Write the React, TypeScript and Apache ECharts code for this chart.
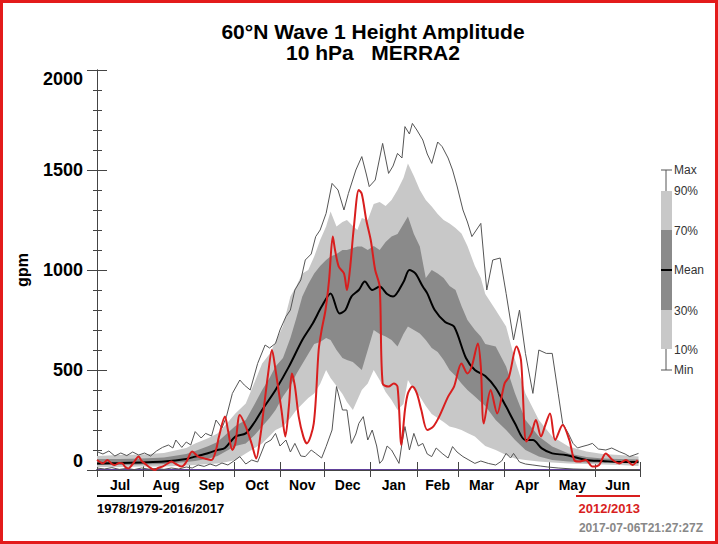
import React, { useEffect, useRef } from "react";
import * as echarts from "echarts";

// months of the season, July to June (day 0 = Jul 1)
const monthNames = ["Jul", "Aug", "Sep", "Oct", "Nov", "Dec", "Jan", "Feb", "Mar", "Apr", "May", "Jun"];
const monthStarts = [0, 31, 62, 92, 123, 153, 184, 215, 243, 274, 304, 335, 365];
const monthMids = [15.5, 46.5, 77, 107.5, 138, 168.5, 199.5, 229, 258.5, 289, 319.5, 350];

// climatology percentiles 1978/1979-2016/2017
const bandDays = [0, 15, 30, 45, 60, 66, 75, 81, 87, 93, 100, 106, 111, 116, 120, 125, 130, 134, 138, 142, 146, 150, 154, 157, 161, 165, 168, 172, 175, 178, 182, 186, 190, 194, 198, 202, 206, 209, 213, 217, 221, 225, 229, 233, 237, 241, 245, 249, 254, 258, 261, 268, 275, 281, 288, 297, 306, 317, 329, 340, 351, 364];
const p90 = [70, 75, 78, 85, 110, 133, 160, 183, 230, 283, 333, 440, 533, 580, 640, 720, 867, 920, 983, 1000, 1067, 1150, 1217, 1292, 1217, 1240, 1250, 1220, 1200, 1260, 1250, 1330, 1340, 1320, 1350, 1400, 1460, 1533, 1470, 1400, 1350, 1317, 1280, 1250, 1233, 1210, 1183, 1120, 1020, 960, 880, 800, 717, 550, 383, 250, 167, 117, 92, 80, 75, 67];
const p70 = [55, 55, 58, 62, 80, 95, 120, 140, 180, 220, 250, 330, 400, 460, 517, 560, 660, 760, 867, 930, 983, 1020, 1050, 1067, 1080, 1100, 1100, 1110, 1117, 1117, 1100, 1120, 1100, 1140, 1167, 1180, 1230, 1267, 1180, 1117, 960, 1000, 983, 960, 920, 900, 820, 750, 700, 667, 630, 617, 517, 383, 250, 167, 117, 83, 65, 58, 55, 52];
const p30 = [25, 25, 27, 30, 40, 45, 58, 70, 95, 120, 133, 175, 217, 260, 300, 367, 420, 480, 530, 580, 630, 640, 660, 650, 600, 560, 550, 540, 520, 500, 600, 700, 680, 667, 650, 617, 680, 717, 700, 683, 650, 610, 590, 550, 500, 470, 433, 400, 367, 340, 320, 250, 200, 150, 100, 67, 50, 42, 38, 36, 35, 33];
const p10 = [15, 15, 17, 17, 22, 25, 30, 33, 40, 50, 83, 110, 133, 170, 200, 217, 260, 300, 330, 360, 383, 430, 500, 460, 420, 380, 340, 300, 350, 400, 433, 500, 450, 390, 350, 300, 330, 450, 400, 367, 320, 280, 260, 240, 217, 210, 200, 185, 167, 140, 120, 100, 75, 58, 50, 42, 38, 33, 30, 27, 25, 20];

const meanDays = [0, 15, 30, 45, 60, 66, 75, 81, 86, 93, 100, 106, 111, 120, 129, 138, 145, 151, 157, 163, 167, 171, 176, 180, 185, 190, 195, 199, 206, 210, 214, 219, 222, 227, 234, 240, 248, 254, 261, 268, 275, 281, 288, 293, 299, 306, 315, 329, 340, 351, 364];
const meanValues = [33, 35, 38, 42, 55, 67, 85, 100, 110, 167, 183, 240, 300, 400, 517, 650, 733, 817, 883, 783, 800, 867, 900, 942, 900, 917, 880, 867, 940, 1000, 983, 917, 883, 800, 740, 717, 560, 500, 470, 410, 317, 233, 150, 150, 108, 83, 75, 50, 45, 40, 40];

const maxDays = [0, 4, 8, 12, 16, 20, 24, 28, 32, 36, 40, 44, 48, 51, 53, 57, 60, 63, 66, 70, 73, 77, 80, 84, 87, 91, 96, 99, 103, 108, 113, 116, 120, 123, 127, 130, 133, 137, 140, 144, 147, 150, 154, 158, 162, 166, 169, 174, 178, 181, 183, 187, 192, 196, 199, 202, 205, 207, 210, 212, 215, 219, 222, 225, 229, 232, 236, 239, 242, 246, 249, 252, 255, 258, 262, 266, 271, 275, 280, 284, 288, 293, 297, 302, 306, 310, 313, 317, 320, 323, 326, 330, 333, 337, 342, 346, 351, 355, 358, 361, 364];
const maxValues = [92, 80, 95, 70, 85, 72, 90, 75, 85, 70, 95, 113, 125, 110, 150, 113, 140, 125, 192, 160, 183, 170, 250, 210, 267, 383, 450, 425, 400, 533, 625, 610, 633, 700, 767, 800, 900, 950, 1050, 1080, 1167, 1200, 1283, 1433, 1400, 1300, 1383, 1500, 1567, 1480, 1417, 1450, 1633, 1483, 1520, 1583, 1560, 1717, 1680, 1733, 1700, 1650, 1580, 1533, 1640, 1617, 1560, 1500, 1420, 1300, 1240, 1167, 1200, 1233, 900, 1050, 1060, 883, 650, 800, 583, 383, 600, 583, 583, 383, 233, 180, 133, 110, 117, 125, 133, 105, 100, 110, 92, 80, 67, 75, 83];

const minDays = [0, 5, 10, 15, 20, 25, 30, 35, 40, 45, 50, 55, 60, 64, 68, 72, 76, 80, 84, 88, 92, 96, 100, 104, 108, 113, 117, 120, 123, 127, 130, 133, 137, 140, 144, 147, 151, 154, 158, 161, 165, 168, 171, 174, 176, 179, 182, 185, 188, 190, 192, 195, 198, 201, 203, 205, 207, 210, 213, 216, 219, 222, 225, 228, 232, 236, 239, 242, 246, 250, 254, 258, 263, 268, 272, 275, 278, 280, 284, 288, 293, 298, 303, 310, 320, 330, 340, 350, 364];
const minValues = [10, 5, 12, 3, 8, 2, 10, 4, 8, 3, 10, 5, 15, 10, 25, 18, 30, 20, 35, 25, 45, 67, 30, 50, 40, 133, 150, 183, 120, 150, 90, 133, 70, 67, 100, 83, 60, 117, 200, 417, 300, 300, 133, 180, 233, 267, 150, 200, 120, 33, 50, 120, 100, 60, 33, 133, 217, 100, 183, 120, 133, 80, 67, 110, 83, 60, 117, 90, 67, 50, 33, 45, 33, 25, 45, 83, 60, 83, 40, 30, 25, 20, 15, 10, 5, 3, 2, 2, 2];

// season 2012/2013
const redDays = [0, 2, 4, 7, 10, 12, 15, 17, 19, 21, 24, 28, 30, 32, 35, 39, 41, 44, 47, 50, 53, 57, 60, 64, 68, 72, 77, 80, 82, 86, 88, 91, 93, 96, 100, 104, 107, 110, 112, 115, 117.6, 120, 122, 124, 126.6, 129, 131, 133, 135.6, 138.7, 141, 145.7, 149, 151, 153.6, 156, 158.5, 160, 162.5, 166, 168, 170, 172.7, 176, 178, 181, 184, 187, 190, 192, 196, 199.5, 202, 204.6, 207, 209, 212, 215, 218, 222, 226, 230, 236, 240, 245, 249, 252, 256, 258, 260, 264.6, 269, 274, 277, 282, 285, 288.6, 292, 295, 298.5, 301, 304.5, 308, 313, 317.5, 320.8, 324, 328.6, 333, 337.5, 342, 346.6, 351, 355.6, 360, 363.4];
const redValues = [50, 40, 33, 50, 30, 25, 35, 33, 15, 8, 30, 67, 45, 33, 15, 0, 10, 17, 30, 42, 30, 17, 40, 92, 67, 58, 50, 100, 167, 267, 200, 100, 133, 275, 217, 130, 58, 180, 300, 480, 600, 500, 400, 300, 167, 320, 483, 420, 267, 167, 133, 233, 600, 700, 800, 950, 1167, 1100, 1017, 983, 900, 1000, 1217, 1400, 1380, 1250, 1150, 1000, 917, 433, 417, 433, 417, 125, 300, 383, 417, 383, 300, 200, 217, 267, 367, 417, 533, 483, 520, 633, 517, 233, 400, 283, 433, 467, 617, 550, 142, 183, 250, 167, 217, 283, 150, 225, 150, 50, 42, 50, 17, 25, 83, 50, 33, 50, 25, 50];

const zip = (xs: number[], ys: number[]) => xs.map((x, i) => [x, ys[i]]);

const FONT = '"Liberation Sans", Arial, sans-serif';
const AXIS = "#444";

// shaded band between two percentile curves, drawn as one polygon through the axes' scales
const bandSeries = (name: string, lo: number[], hi: number[], color: string) => ({
  type: "custom",
  name,
  silent: true,
  clip: true,
  data: bandDays.map((d, i) => [d, lo[i], hi[i]]),
  encode: { x: 0, y: [1, 2] },
  renderItem: (params: any, api: any) => {
    if (params.dataIndex !== 0) return null;
    const upper = bandDays.map((d, i) => api.coord([d, hi[i]]));
    const lower = bandDays.map((d, i) => api.coord([d, lo[i]])).reverse();
    return { type: "polygon", shape: { points: upper.concat(lower) }, style: { fill: color } };
  },
});

const App: React.FC = () => {
  const chartRef = useRef<HTMLDivElement>(null);

  useEffect(() => {
    if (!chartRef.current) return;
    document.body.style.margin = "0";
    const chart = echarts.init(chartRef.current, undefined, { renderer: "svg" });

    const lineBase = { type: "line", symbol: "none", silent: true };

    const option = {
      animation: false,
      grid: { left: 97, right: 78, top: 70, bottom: 74 },
      title: {
        text: "60°N Wave 1 Height Amplitude\n10 hPa   MERRA2",
        left: 368,
        top: 16,
        textAlign: "center",
        textStyle: { fontSize: 21, fontWeight: "bold", fontFamily: FONT, color: "#000", lineHeight: 21 },
      },
      xAxis: [
        {
          type: "value",
          min: 0,
          max: 365,
          position: "bottom",
          splitLine: { show: false },
          axisLine: { lineStyle: { color: "#60409a", width: 2 } },
          axisTick: { customValues: monthStarts, length: 7, lineStyle: { color: AXIS } },
          axisLabel: {
            customValues: monthMids,
            formatter: (v: number) => monthNames[monthMids.indexOf(v)] ?? "",
            fontSize: 14,
            fontWeight: "bold",
            fontFamily: FONT,
            color: "#000",
            margin: 8,
          },
        },
        {
          type: "value",
          min: 0,
          max: 365,
          position: "top",
          splitLine: { show: false },
          axisLine: { lineStyle: { color: AXIS } },
          axisTick: { customValues: monthStarts, length: 8, lineStyle: { color: AXIS } },
          axisLabel: { show: false },
        },
      ],
      yAxis: [
        {
          type: "value",
          min: 0,
          max: 2000,
          interval: 500,
          position: "left",
          splitLine: { show: false },
          axisLine: { show: true, lineStyle: { color: AXIS } },
          axisTick: { length: 10, lineStyle: { color: AXIS } },
          minorTick: { show: true, splitNumber: 5, length: 4, lineStyle: { color: AXIS } },
          axisLabel: {
            formatter: (v: number) => String(v),
            fontSize: 18,
            fontWeight: "bold",
            fontFamily: FONT,
            color: "#000",
            margin: 14,
            verticalAlignMinLabel: "bottom",
            verticalAlignMaxLabel: "top",
          },
        },
        {
          type: "value",
          min: 0,
          max: 2000,
          interval: 500,
          position: "right",
          splitLine: { show: false },
          axisLine: { show: true, lineStyle: { color: AXIS } },
          axisTick: { length: 10, lineStyle: { color: AXIS } },
          minorTick: { show: true, splitNumber: 5, length: 5, lineStyle: { color: AXIS } },
          axisLabel: { show: false },
        },
      ],
      series: [
        bandSeries("10-90%", p10, p90, "#c8c8c8"),
        bandSeries("30-70%", p30, p70, "#8a8a8a"),
        { ...lineBase, name: "Max", data: zip(maxDays, maxValues), lineStyle: { color: "#555", width: 1 } },
        { ...lineBase, name: "Min", data: zip(minDays, minValues), lineStyle: { color: "#555", width: 1 } },
        { ...lineBase, name: "Mean", smooth: 0.3, data: zip(meanDays, meanValues), lineStyle: { color: "#000", width: 2 } },
        { ...lineBase, name: "2012/2013", smooth: 0.3, data: zip(redDays, redValues), lineStyle: { color: "#d81e1e", width: 2 } },
      ],
      graphic: [
        // red frame
        { type: "rect", shape: { x: 1.5, y: 1.5, width: 715, height: 541 }, style: { fill: "none", stroke: "#e31b1b", lineWidth: 3 }, silent: true },
        // y axis name
        {
          type: "text",
          x: 22,
          y: 270,
          rotation: Math.PI / 2,
          style: { text: "gpm", fontSize: 16, fontWeight: "bold", fontFamily: FONT, fill: "#000", align: "center", verticalAlign: "middle" },
        },
        // percentile key
        { type: "line", shape: { x1: 666, y1: 170, x2: 666, y2: 370 }, style: { stroke: "#555", lineWidth: 1 } },
        { type: "line", shape: { x1: 661, y1: 170, x2: 672, y2: 170 }, style: { stroke: "#555", lineWidth: 1 } },
        { type: "line", shape: { x1: 661, y1: 370, x2: 672, y2: 370 }, style: { stroke: "#555", lineWidth: 1 } },
        { type: "rect", shape: { x: 661, y: 191, width: 11, height: 158 }, style: { fill: "#c8c8c8" } },
        { type: "rect", shape: { x: 661, y: 230, width: 11, height: 80 }, style: { fill: "#8a8a8a" } },
        { type: "line", shape: { x1: 661, y1: 270, x2: 672, y2: 270 }, style: { stroke: "#000", lineWidth: 2 } },
        ...[
          ["Max", 170],
          ["90%", 191],
          ["70%", 231],
          ["Mean", 270],
          ["30%", 311],
          ["10%", 350],
          ["Min", 370],
        ].map(([t, y]) => ({
          type: "text",
          x: 674,
          y: y as number,
          style: { text: t as string, fontSize: 12, fontFamily: FONT, fill: "#333", align: "left", verticalAlign: "middle" },
        })),
        // series key under the axis
        { type: "line", shape: { x1: 97, y1: 496, x2: 162, y2: 496 }, style: { stroke: "#000", lineWidth: 2 } },
        {
          type: "text",
          x: 97,
          y: 508,
          style: { text: "1978/1979-2016/2017", fontSize: 13, fontWeight: "bold", fontFamily: FONT, fill: "#000", align: "left", verticalAlign: "middle" },
        },
        { type: "line", shape: { x1: 576, y1: 496, x2: 640, y2: 496 }, style: { stroke: "#d81e1e", lineWidth: 2 } },
        {
          type: "text",
          x: 640,
          y: 508,
          style: { text: "2012/2013", fontSize: 13, fontWeight: "bold", fontFamily: FONT, fill: "#d81e1e", align: "right", verticalAlign: "middle" },
        },
        {
          type: "text",
          x: 703,
          y: 528,
          style: { text: "2017-07-06T21:27:27Z", fontSize: 12, fontWeight: "bold", fontFamily: FONT, fill: "#888", align: "right", verticalAlign: "middle" },
        },
      ],
    };

    chart.setOption(option as any);

    return () => {
      chart.dispose();
    };
  }, []);

  return <div ref={chartRef} style={{ width: 718, height: 544 }} />;
};

export default App;
